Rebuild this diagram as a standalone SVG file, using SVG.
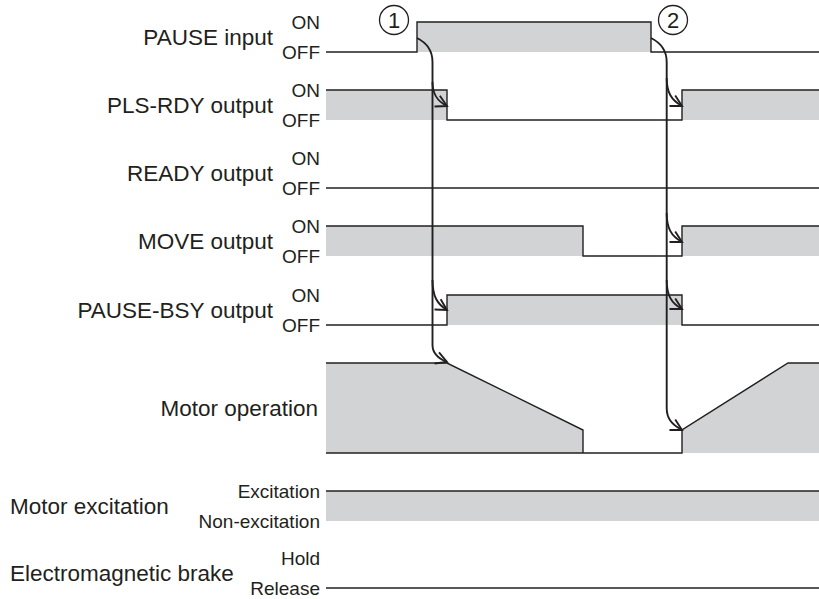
<svg xmlns="http://www.w3.org/2000/svg" width="819" height="599" viewBox="0 0 819 599">
<style>
text{font-family:"Liberation Sans",Arial,sans-serif;fill:#231f20}
.main{font-size:22.5px}
.lvl{font-size:19px;text-anchor:end}
.r{text-anchor:end}
.num{font-size:22px;text-anchor:middle}
.fill{fill:#d1d3d4;stroke:none}
.wave{fill:none;stroke:#231f20;stroke-width:1.4;stroke-linejoin:miter}
.arr{fill:none;stroke:#231f20;stroke-width:1.9}
.circ{fill:none;stroke:#231f20;stroke-width:1.3}
</style>
<defs>
<marker id="ah" viewBox="-14 -8 16 16" refX="0" refY="0" markerWidth="16" markerHeight="16" markerUnits="userSpaceOnUse" orient="auto">
<path d="M-11,-6 L0,0 L-11,6" fill="none" stroke="#231f20" stroke-width="1.9"/>
</marker>
</defs>
<rect width="819" height="599" fill="#ffffff"/>

<g id="pause-input">
<text class="main r" x="273" y="45">PAUSE input</text>
<text class="lvl" x="320" y="28.5">ON</text>
<text class="lvl" x="320" y="58.5">OFF</text>
<rect class="fill" x="417" y="22" width="234" height="30"/>
<path class="wave" d="M326,52 L417,52 L417,22 L651,22 L651,52 L819,52"/>
</g>

<g id="pls-rdy-output">
<text class="main r" x="273" y="113">PLS-RDY output</text>
<text class="lvl" x="320" y="96.5">ON</text>
<text class="lvl" x="320" y="126.5">OFF</text>
<rect class="fill" x="326" y="90" width="121" height="30"/>
<rect class="fill" x="682" y="90" width="137" height="30"/>
<path class="wave" d="M326,90 L447,90 L447,120 L682,120 L682,90 L819,90"/>
</g>

<g id="ready-output">
<text class="main r" x="273" y="181">READY output</text>
<text class="lvl" x="320" y="164.5">ON</text>
<text class="lvl" x="320" y="194.5">OFF</text>
<path class="wave" d="M326,188 L819,188"/>
</g>

<g id="move-output">
<text class="main r" x="273" y="249">MOVE output</text>
<text class="lvl" x="320" y="232.5">ON</text>
<text class="lvl" x="320" y="262.5">OFF</text>
<rect class="fill" x="326" y="226" width="257" height="30"/>
<rect class="fill" x="682" y="226" width="137" height="30"/>
<path class="wave" d="M326,226 L583,226 L583,256 L682,256 L682,226 L819,226"/>
</g>

<g id="pause-bsy-output">
<text class="main r" x="273" y="318">PAUSE-BSY output</text>
<text class="lvl" x="320" y="301.5">ON</text>
<text class="lvl" x="320" y="331.5">OFF</text>
<rect class="fill" x="447" y="295" width="235" height="30"/>
<path class="wave" d="M326,325 L447,325 L447,295 L682,295 L682,325 L819,325"/>
</g>

<g id="motor-operation">
<text class="main r" x="318" y="416">Motor operation</text>
<polygon class="fill" points="326,363 447,363 583,430 583,453 326,453"/>
<polygon class="fill" points="682,453 682,430 788,363 819,363 819,453"/>
<path class="wave" d="M326,363 L447,363 L583,430 L583,453"/>
<path class="wave" d="M326,453 L682,453 L682,430 L788,363 L819,363"/>
</g>

<g id="motor-excitation">
<text class="main" x="10" y="514">Motor excitation</text>
<text class="lvl" x="320" y="497.5">Excitation</text>
<text class="lvl" x="320" y="527.5">Non-excitation</text>
<rect class="fill" x="326" y="491" width="493" height="30"/>
<path class="wave" d="M326,491 L819,491"/>
</g>

<g id="electromagnetic-brake">
<text class="main" x="10" y="581">Electromagnetic brake</text>
<text class="lvl" x="320" y="564.5">Hold</text>
<text class="lvl" x="320" y="594.5">Release</text>
<path class="wave" d="M326,588 L819,588"/>
</g>

<g id="marker-1">
<circle class="circ" cx="394" cy="20" r="14.5"/>
<text class="num" x="394" y="28">1</text>
</g>
<g id="marker-2">
<circle class="circ" cx="673" cy="20" r="14.5"/>
<text class="num" x="673" y="28">2</text>
</g>

<g id="connectors">
<path class="arr" marker-end="url(#ah)" d="M417,38 C427,43 432.5,50 432.5,62 L432.5,345 C432.5,353 437,358 447,362"/>
<path class="arr" marker-end="url(#ah)" d="M432.5,82 C432.5,94 437,101 447,106"/>
<path class="arr" marker-end="url(#ah)" d="M432.5,280 C432.5,296 437,304 447,310"/>
<path class="arr" marker-end="url(#ah)" d="M651,38 C661,43 666.7,50 666.7,62 L666.7,408 C666.7,418 671,424 682,430"/>
<path class="arr" marker-end="url(#ah)" d="M666.7,78 C666.7,92 671,100 682,106"/>
<path class="arr" marker-end="url(#ah)" d="M666.7,213 C666.7,228 671,236 682,242"/>
<path class="arr" marker-end="url(#ah)" d="M666.7,280 C666.7,295 671,303 682,309"/>
</g>
</svg>
